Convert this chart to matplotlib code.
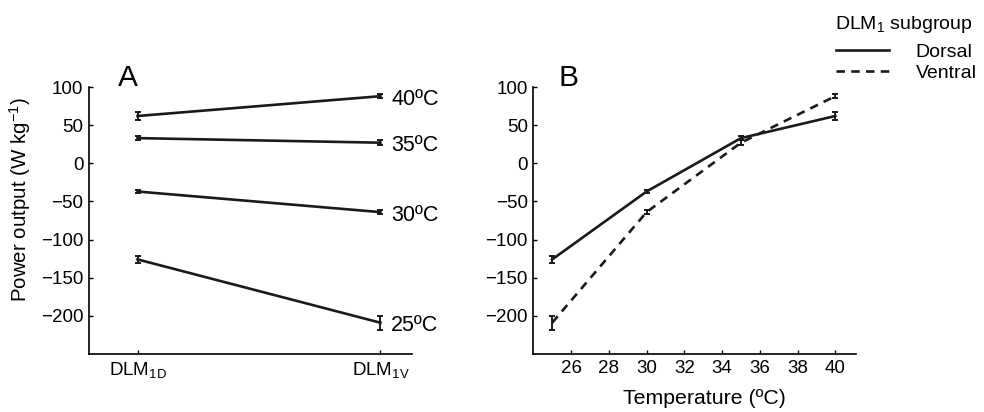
import matplotlib
matplotlib.use("Agg")
import matplotlib.pyplot as plt
from matplotlib.lines import Line2D

plt.rcParams['font.family'] = ['Liberation Sans', 'DejaVu Sans']
plt.rcParams['mathtext.fontset'] = 'custom'
plt.rcParams['mathtext.rm'] = 'Liberation Sans'
plt.rcParams['mathtext.it'] = 'Liberation Sans'
plt.rcParams['mathtext.default'] = 'regular'

temps = [25, 30, 35, 40]
temp_labels = ["25ºC", "30ºC", "35ºC", "40ºC"]
dorsal = [-126, -37, 33, 62]
dorsal_err = [4.5, 2, 3, 5]
ventral = [-209, -64, 27, 88]
ventral_err = [9, 3, 3, 3]
categories = ["DLM$_{1D}$", "DLM$_{1V}$"]

fig = plt.figure(figsize=(9.84, 4.12), dpi=100)
axA = fig.add_axes([0.0904, 0.1408, 0.3283, 0.648])
axB = fig.add_axes([0.542, 0.1408, 0.328, 0.648])

lw = 1.9
dash = (0, (3.2, 2.4))
ekw = dict(elinewidth=1.4, capsize=2.5, capthick=1.4)
col = '#1a1a1a'

# Panel A
for i, t in enumerate(temps):
    axA.errorbar([1, 2], [dorsal[i], ventral[i]], yerr=[dorsal_err[i], ventral_err[i]],
                 color=col, lw=lw, **ekw)
    axA.text(2.045, ventral[i] - 4, temp_labels[i], fontsize=15.5, va='center', ha='left')
axA.set_xlim(0.8, 2.13)
axA.set_ylim(-250, 100)
axA.set_xticks([1, 2])
axA.set_xticklabels(categories)
axA.set_yticks([100, 50, 0, -50, -100, -150, -200])
axA.set_ylabel("Power output (W kg$^{-1}$)", fontsize=14.8)
axA.yaxis.set_label_coords(-0.172, 0.577)
axA.text(0.09, 1.035, "A", transform=axA.transAxes, fontsize=21.5, ha='left', va='center')

# Panel B
axB.errorbar(temps, dorsal, yerr=dorsal_err, color=col, lw=lw, **ekw)
axB.errorbar(temps, ventral, yerr=ventral_err, color=col, lw=lw, linestyle=dash, **ekw)
axB.set_xlim(24, 41.1)
axB.set_ylim(-250, 100)
axB.set_xticks(range(26, 41, 2))
axB.set_yticks([100, 50, 0, -50, -100, -150, -200])
axB.set_xlabel("Temperature (ºC)", fontsize=15.3)
axB.xaxis.set_label_coords(0.529, -0.13)
axB.text(0.077, 1.035, "B", transform=axB.transAxes, fontsize=21.5, ha='left', va='center')

for ax in (axA, axB):
    for s in ('top', 'right'):
        ax.spines[s].set_visible(False)
    for s in ('left', 'bottom'):
        ax.spines[s].set_linewidth(1.2)
    ax.tick_params(direction='in', length=3, width=1, labelsize=13.5, pad=4)

fig.text(835 / 984, 1 - 24.5 / 412, "DLM$_1$ subgroup", fontsize=14, ha='left', va='center')
handles = [Line2D([], [], color=col, lw=lw),
           Line2D([], [], color=col, lw=lw, linestyle=dash)]
leg = fig.legend(handles, ["Dorsal", "Ventral"],
                 loc='upper left', bbox_to_anchor=(0.8475, 1 - 41 / 412), frameon=False,
                 fontsize=14, handlelength=2.75, handletextpad=1.35,
                 labelspacing=0.2, borderpad=0.1, borderaxespad=0)

fig.savefig("out.png", dpi=100)
